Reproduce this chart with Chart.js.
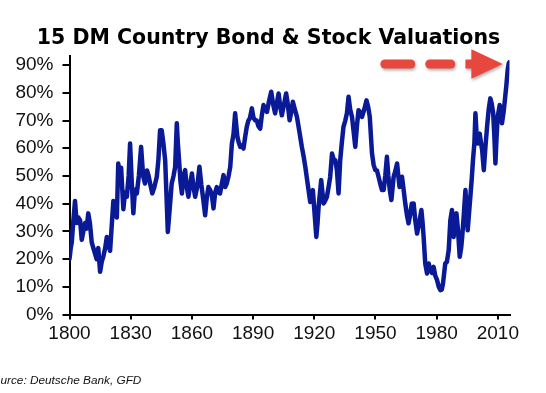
<!DOCTYPE html>
<html>
<head>
<meta charset="utf-8">
<script src="https://cdn.jsdelivr.net/npm/chart.js@4.4.1/dist/chart.umd.min.js"></script>
<style>
  html, body { margin: 0; padding: 0; background: #fff; }
  #wrap { position: relative; width: 546px; height: 393px; overflow: hidden; }
  #titel { position: absolute; left: 0; top: 24.5px; width: 537px; text-align: center;
           font: bold 20.5px "DejaVu Sans", Verdana, sans-serif; color: #000; white-space: nowrap; }
  #sursa { position: absolute; left: -14px; top: 373px; font: italic 11.8px "Liberation Sans", Arial, sans-serif;
           color: #111; white-space: nowrap; }
</style>
</head>
<body>
<div id="wrap">
  <canvas id="valuationChart" width="546" height="393"></canvas>
  <div id="titel">15 DM Country Bond &amp; Stock Valuations</div>
  <div id="sursa">Source: Deutsche Bank, GFD</div>
</div>
<script>
// ani si valori (procente)
const ani = [
  1800, 1800.6, 1801.1, 1801.8, 1802.7, 1803.5, 1804.3, 1805.2, 1806, 1806.8,
  1807.6, 1808.4, 1809.2, 1810, 1810.9, 1811.7, 1812.5, 1813.3, 1814.1, 1815,
  1815.8, 1816.6, 1817.5, 1818.3, 1819.1, 1819.9, 1820.7, 1821.5, 1822.3, 1823.2,
  1823.9, 1824.6, 1825.3, 1826.4, 1827.2, 1828.1, 1829, 1829.7, 1830.5, 1831.3,
  1832.1, 1833, 1834, 1835.1, 1836.1, 1837, 1838, 1838.7, 1839.6, 1840.6,
  1841.6, 1842.8, 1843.6, 1844.4, 1845.2, 1846, 1846.9, 1847.6, 1848.2, 1849.1,
  1850.1, 1851, 1851.8, 1852.6, 1853.1, 1853.7, 1854.4, 1855.1, 1855.9, 1856.7,
  1857.5, 1858.3, 1859.2, 1860, 1860.8, 1861.6, 1862.6, 1863.7, 1864.6, 1865.5,
  1866.5, 1867.3, 1868.1, 1869, 1869.8, 1870.6, 1871.4, 1872.2, 1873, 1873.8,
  1874.6, 1875.5, 1876.3, 1877.1, 1878, 1878.8, 1879.6, 1880.4, 1881.2, 1881.8,
  1882.3, 1883, 1883.7, 1884.5, 1885.3, 1886.1, 1886.9, 1887.7, 1888.5, 1889.4,
  1890.2, 1891, 1891.8, 1892.6, 1893.5, 1894.3, 1895.1, 1896, 1896.8, 1897.8,
  1898.9, 1899.8, 1900.8, 1901.6, 1902.5, 1903.3, 1904.1, 1905.2, 1906.2, 1907,
  1907.9, 1908.7, 1909.5, 1910.5, 1911.5, 1912.7, 1913.9, 1914.8, 1915.6, 1916.4,
  1917.2, 1918, 1918.6, 1919.3, 1920.2, 1921, 1921.6, 1922.1, 1922.8, 1923.4,
  1924, 1924.5, 1925.3, 1926.2, 1927, 1927.8, 1928.7, 1929.5, 1930.3, 1931.1,
  1931.9, 1932.7, 1933.5, 1934.3, 1935.2, 1936, 1936.8, 1937.6, 1938.5, 1939.3,
  1940.1, 1940.9, 1941.7, 1942.5, 1943.4, 1944.5, 1945.6, 1946.4, 1947.2, 1948.3,
  1949.1, 1949.9, 1950.7, 1951.5, 1952.4, 1953.2, 1954, 1954.8, 1955.6, 1956.3,
  1957, 1957.8, 1958.9, 1959.8, 1960.6, 1961.2, 1961.8, 1962.4, 1963, 1963.8,
  1964.6, 1965.4, 1966.2, 1967, 1967.8, 1968.7, 1969.5, 1970.4, 1971.4, 1972.5,
  1973.1, 1973.6, 1974.4, 1975.3, 1976.1, 1976.9, 1977.7, 1978.5, 1979.3, 1980.2,
  1981, 1981.8, 1982.5, 1983.1, 1984.2, 1985, 1985.9, 1986.7, 1987.5, 1988.3,
  1989, 1989.7, 1990.5, 1991.3, 1992, 1992.5, 1993.3, 1994.1, 1994.7, 1995.2,
  1995.8, 1996.5, 1997.2, 1997.8, 1998.5, 1999, 1999.5, 2000.1, 2000.6, 2001.1,
  2001.7, 2002.3, 2003.1, 2003.9, 2004.7, 2005.5, 2006.3, 2007, 2007.7, 2008.3,
  2008.8, 2009.3, 2009.9, 2010.9, 2011.5, 2012, 2012.8, 2013.6, 2014.2, 2014.8,
  2015.3, 2015.6
];
const valori = [
  20, 24, 26, 33, 41, 33, 35, 34, 27, 30,
  33, 31, 36.5, 33, 26, 24, 22, 20, 24, 15.4,
  19, 21, 24, 28, 25, 23, 32, 41, 38, 35,
  54.5, 50, 53, 38, 44, 42.5, 50, 61.7, 48, 36.5,
  45, 43.7, 50, 60.5, 50, 47.3, 52, 50.3, 47, 43.7,
  46, 49.7, 56, 66.5, 66.5, 62, 55.7, 42, 29.8, 38,
  47.3, 50, 53.3, 69, 62, 55.7, 48, 43.7, 50, 52.1,
  46, 42.5, 47, 50.9, 46, 42.5, 46, 53.3, 47, 42,
  35.8, 42, 46, 44.9, 43, 38.3, 44, 46, 44, 43.7,
  47, 50.3, 46, 47.3, 50, 53.3, 61.7, 65, 72.6, 68,
  64.1, 62, 60.5, 61, 59.9, 64, 67.7, 70, 71, 74.4,
  71, 70.1, 70, 68, 67.1, 72, 75.6, 74, 73.1, 77,
  80.4, 76, 72.6, 76, 79.8, 75, 71.9, 76, 79.8, 76,
  70.1, 73, 76.8, 74, 71.3, 66, 60.5, 57, 53.3, 49,
  44.9, 40.6, 43, 44.9, 36, 28, 33, 38.8, 44, 48.5,
  44, 40.1, 41, 42.5, 46, 49.7, 58.1, 56, 55.7, 52,
  43.7, 55.7, 62, 67.7, 70, 72.6, 78.6, 74, 71.3, 66,
  60.5, 68, 73.7, 73, 71.3, 74, 77.3, 75, 71.3, 58.1,
  54, 52.1, 52, 49.7, 47, 44.9, 44.9, 50, 56.9, 50,
  45, 41.3, 49.7, 52, 54.5, 50, 46, 48, 49.7, 45,
  40.1, 36, 32.9, 36, 40, 40.1, 34, 29.2, 33, 37.7,
  33, 28, 18.4, 14.8, 18.4, 16, 15, 17.2, 14, 12.4,
  10, 8.8, 9, 11.2, 18.4, 19, 23.2, 34, 37.7, 28,
  32, 36.5, 30, 20.8, 24, 28, 36, 44.9, 37, 30.4,
  36, 42.5, 49, 55.7, 62, 72.6, 66, 61.7, 64, 65.3,
  62, 59.3, 52.1, 60.5, 67.7, 74, 78, 76, 72.6, 64,
  54.5, 63, 71.3, 75.6, 72, 69, 73, 78.6, 83, 88.2,
  90.6, 91
];
const anEtichete = [1800, 1830, 1860, 1890, 1920, 1950, 1980, 2010];
const procentEtichete = [0, 10, 20, 30, 40, 50, 60, 70, 80, 90];

// sageata rosie punctata (in unitati de date: ani / procente)
const sageataNivel = 90.4;
const sageataLinii = [[1954.6, 1967.3], [1976.6, 1986.9]];
const sageataCap = { coada: 1994.1, baza: 1997.0, varf: 2012.4, grosime: 1.65, latime: 5.3 };

const sageataPlugin = {
    id: 'sageata',
    afterDatasetsDraw(chart) {
        const { ctx, scales: { x, y } } = chart;
        const py = y.getPixelForValue(sageataNivel);
        ctx.save();
        ctx.shadowColor = 'rgba(0,0,0,0.3)';
        ctx.shadowBlur = 3;
        ctx.shadowOffsetX = 1;
        ctx.shadowOffsetY = 2;
        ctx.strokeStyle = '#e8473e';
        ctx.fillStyle = '#e8473e';
        ctx.lineWidth = 9;
        ctx.lineCap = 'round';
        sageataLinii.forEach(([a, b]) => {
            ctx.beginPath();
            ctx.moveTo(x.getPixelForValue(a), py);
            ctx.lineTo(x.getPixelForValue(b), py);
            ctx.stroke();
        });
        const c = sageataCap;
        ctx.beginPath();
        ctx.moveTo(x.getPixelForValue(c.coada), y.getPixelForValue(sageataNivel + c.grosime));
        ctx.lineTo(x.getPixelForValue(c.baza), y.getPixelForValue(sageataNivel + c.grosime));
        ctx.lineTo(x.getPixelForValue(c.baza), y.getPixelForValue(sageataNivel + c.latime));
        ctx.lineTo(x.getPixelForValue(c.varf), py);
        ctx.lineTo(x.getPixelForValue(c.baza), y.getPixelForValue(sageataNivel - c.latime));
        ctx.lineTo(x.getPixelForValue(c.baza), y.getPixelForValue(sageataNivel - c.grosime));
        ctx.lineTo(x.getPixelForValue(c.coada), y.getPixelForValue(sageataNivel - c.grosime));
        ctx.closePath();
        ctx.fill();
        ctx.restore();
    }
};

const fontAxe = { family: '"Liberation Sans", Arial, sans-serif', size: 19 };

const ctx = document.getElementById('valuationChart').getContext('2d');
new Chart(ctx, {
    type: 'line',
    data: {
        datasets: [{
            data: ani.map((an, i) => ({ x: an, y: valori[i] })),
            borderColor: '#0a1a96',
            borderWidth: 4.5,
            pointRadius: 0,
            tension: 0,
            borderJoinStyle: 'round',
            borderCapStyle: 'round'
        }]
    },
    options: {
        responsive: false,
        animation: false,
        devicePixelRatio: 1,
        layout: { padding: { top: 56, right: 36.5, left: 0, bottom: 0 } },
        plugins: { legend: { display: false }, tooltip: { enabled: false } },
        scales: {
            x: {
                type: 'linear',
                min: 1800,
                max: 2015.7,
                afterFit: s => { s.height = 78.5; },
                afterBuildTicks: s => { s.ticks = anEtichete.map(v => ({ value: v })); },
                ticks: { color: '#111', font: fontAxe, padding: 3, maxRotation: 0, callback: v => String(v) },
                grid: { drawOnChartArea: false, drawTicks: true, tickLength: 5, color: '#000', lineWidth: 2 },
                border: { display: true, color: '#000', width: 2 }
            },
            y: {
                min: 0,
                max: 93.3,
                afterFit: s => { s.width = 69.5; },
                afterBuildTicks: s => { s.ticks = procentEtichete.map(v => ({ value: v })); },
                ticks: { color: '#111', font: fontAxe, padding: 9, callback: v => v + '%' },
                grid: { drawOnChartArea: false, drawTicks: true, tickLength: 7, color: '#000', lineWidth: 2 },
                border: { display: true, color: '#000', width: 2 }
            }
        }
    },
    plugins: [sageataPlugin]
});
</script>
</body>
</html>
